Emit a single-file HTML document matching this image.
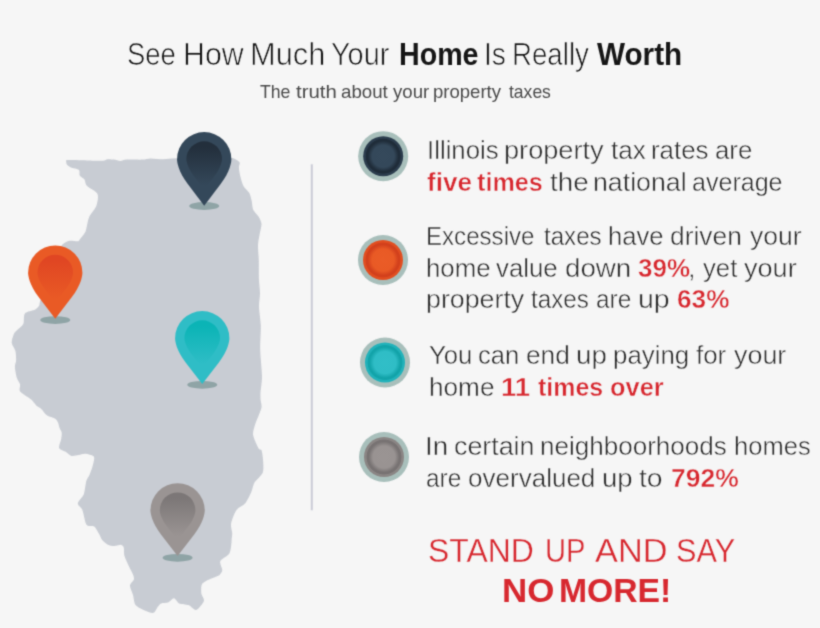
<!DOCTYPE html>
<html><head><meta charset="utf-8"><title>See How Much Your Home Is Really Worth</title>
<style>
html,body{margin:0;padding:0}
body{width:820px;height:628px;background:#f6f6f6;overflow:hidden;position:relative;font-family:"Liberation Sans",sans-serif}
svg{position:absolute;left:0;top:0}
.w{position:absolute;white-space:nowrap;font-weight:400;transform-origin:0 0;display:block}
.b{font-weight:700}
#tx{position:absolute;left:0;top:0;width:820px;height:628px;filter:url(#soft)}
#art{filter:url(#soft)}
.th{-webkit-text-stroke:0.7px #f6f6f6}
.t2{-webkit-text-stroke:0.45px #f6f6f6}
.t3{-webkit-text-stroke:0.35px #f6f6f6}
</style></head><body>
<svg id="art" width="820" height="628" viewBox="0 0 820 628">
<defs>
<filter id="soft" x="0" y="0" width="100%" height="100%" color-interpolation-filters="sRGB"><feConvolveMatrix order="3" kernelMatrix="0.0277 0.111 0.0277 0.111 0.4456 0.111 0.0277 0.111 0.0277" edgeMode="duplicate" preserveAlpha="false"/></filter>
<linearGradient id="pd" x1="0" y1="0" x2="0" y2="1"><stop offset="0.12" stop-color="#232f3c"/><stop offset="0.92" stop-color="#34485a"/></linearGradient>
<linearGradient id="po" x1="0" y1="0" x2="0" y2="1"><stop offset="0.12" stop-color="#e04623"/><stop offset="0.92" stop-color="#e95a25"/></linearGradient>
<linearGradient id="pt" x1="0" y1="0" x2="0" y2="1"><stop offset="0.12" stop-color="#0bb4b6"/><stop offset="0.92" stop-color="#2fbdc6"/></linearGradient>
<linearGradient id="pg" x1="0" y1="0" x2="0" y2="1"><stop offset="0.12" stop-color="#7c7777"/><stop offset="0.92" stop-color="#9a9493"/></linearGradient>
<radialGradient id="c0" cx="0.5" cy="0.5" r="0.5"><stop offset="0" stop-color="#35495b"/><stop offset="0.55" stop-color="#34485a"/><stop offset="0.77" stop-color="#1f2c39"/><stop offset="0.85" stop-color="#1f2c39"/><stop offset="0.89" stop-color="#2b3c4d"/><stop offset="1" stop-color="#2b3c4d"/></radialGradient>
<radialGradient id="c1" cx="0.5" cy="0.5" r="0.5"><stop offset="0" stop-color="#ea5c27"/><stop offset="0.55" stop-color="#e95a25"/><stop offset="0.77" stop-color="#d2401c"/><stop offset="0.85" stop-color="#d2401c"/><stop offset="0.89" stop-color="#e14e20"/><stop offset="1" stop-color="#e14e20"/></radialGradient>
<radialGradient id="c2" cx="0.5" cy="0.5" r="0.5"><stop offset="0" stop-color="#31bec7"/><stop offset="0.55" stop-color="#2fbdc6"/><stop offset="0.77" stop-color="#12a3a9"/><stop offset="0.85" stop-color="#12a3a9"/><stop offset="0.89" stop-color="#22b2ba"/><stop offset="1" stop-color="#22b2ba"/></radialGradient>
<radialGradient id="c3" cx="0.5" cy="0.5" r="0.5"><stop offset="0" stop-color="#9a9493"/><stop offset="0.55" stop-color="#999392"/><stop offset="0.77" stop-color="#777272"/><stop offset="0.85" stop-color="#777272"/><stop offset="0.89" stop-color="#8a8584"/><stop offset="1" stop-color="#8a8584"/></radialGradient>
</defs>
<path d="M66.3,162.0C66.4,161.4 65.0,160.3 67.7,160.1C70.4,159.9 82.1,160.3 86.8,160.4C91.5,160.5 100.0,160.9 102.8,160.8C105.6,160.7 106.0,159.5 107.5,159.3C109.0,159.1 112.2,159.4 113.9,159.6C115.6,159.8 118.6,161.0 120.3,161.0C122.0,161.0 123.7,159.8 126.7,159.6C129.7,159.4 139.4,159.8 142.6,159.6C145.8,159.4 147.7,158.5 150.5,158.4C153.3,158.3 159.9,159.2 163.3,159.2C166.7,159.2 170.6,158.5 176.0,158.3C181.4,158.1 196.7,158.0 204.0,158.0C211.3,158.0 226.8,157.8 231.0,158.0C235.2,158.2 234.5,159.0 235.7,159.6C236.9,160.2 239.3,161.6 239.7,162.7C240.1,163.8 238.8,165.6 238.9,167.5C239.0,169.4 239.9,174.6 240.5,177.1C241.1,179.6 242.5,184.5 243.7,186.6C244.9,188.7 248.2,191.1 249.3,193.0C250.4,194.9 251.2,198.8 251.7,201.0C252.2,203.2 252.3,207.6 253.2,209.7C254.1,211.8 257.7,215.0 258.8,216.9C259.9,218.8 261.4,221.7 261.5,224.0C261.6,226.3 260.1,231.5 259.6,234.4C259.1,237.3 258.1,242.0 258.0,245.5C257.9,249.0 258.7,256.1 258.8,260.7C258.9,265.3 258.8,275.6 259.0,280.0C259.2,284.4 260.0,289.8 260.0,293.4C260.0,297.0 258.9,302.5 259.0,306.8C259.1,311.1 260.6,319.9 260.8,325.6C261.0,331.3 260.0,343.0 260.2,349.8C260.4,356.6 262.0,370.9 262.0,376.6C262.0,382.3 260.7,389.6 260.5,392.7C260.3,395.8 260.5,398.0 260.6,400.0C260.7,402.0 262.1,404.8 261.4,408.0C260.7,411.2 256.4,420.5 255.3,424.1C254.2,427.7 252.7,431.7 253.1,434.9C253.5,438.1 257.4,446.2 258.5,448.3C259.6,450.4 261.1,448.9 261.7,450.7C262.3,452.5 263.1,458.9 263.2,461.9C263.3,464.9 263.8,470.2 262.6,473.0C261.4,475.8 256.0,480.1 254.5,482.6C253.0,485.1 252.5,489.3 251.3,492.1C250.1,494.9 247.3,500.9 245.3,503.3C243.3,505.7 238.4,507.3 236.5,510.0C234.6,512.7 231.7,520.3 231.1,523.4C230.5,526.5 232.1,530.8 232.2,533.0C232.3,535.2 231.7,538.3 231.6,540.0C231.5,541.7 231.5,543.5 231.2,545.4C230.9,547.3 230.5,551.9 229.0,554.0C227.5,556.1 221.2,559.1 220.3,561.2C219.4,563.3 222.4,568.2 222.3,570.1C222.2,572.0 220.8,574.1 219.3,575.2C217.8,576.3 213.0,577.6 210.7,578.7C208.4,579.8 203.5,581.9 202.2,583.8C200.9,585.7 201.1,590.9 201.3,593.2C201.5,595.5 204.6,598.7 203.9,600.9C203.2,603.1 198.3,609.3 196.2,609.9C194.1,610.5 190.8,606.0 188.5,605.1C186.2,604.2 181.1,604.3 179.2,603.4C177.3,602.5 175.5,598.4 174.0,598.3C172.5,598.2 169.7,601.9 168.0,602.6C166.3,603.3 162.6,602.8 161.2,603.4C159.8,604.0 158.8,605.5 157.8,606.8C156.8,608.1 155.3,612.3 153.5,612.8C151.7,613.3 146.5,611.2 144.1,610.2C141.7,609.2 137.1,607.1 135.6,605.1C134.1,603.1 133.7,597.5 133.0,594.9C132.3,592.3 129.9,587.6 130.0,585.5C130.1,583.4 133.5,581.0 133.9,579.5C134.3,578.0 133.7,576.2 133.0,574.4C132.3,572.6 129.9,568.4 128.8,565.9C127.7,563.4 125.2,558.5 124.5,556.0C123.8,553.5 124.2,548.7 123.7,547.2C123.2,545.7 121.8,544.9 120.5,544.8C119.2,544.7 115.8,546.1 114.1,546.1C112.4,546.1 109.4,545.6 107.8,544.8C106.2,544.0 103.4,541.6 102.2,540.1C101.0,538.6 100.1,535.5 99.0,533.7C97.9,531.9 95.7,527.6 94.2,526.5C92.7,525.4 89.1,526.2 87.9,525.7C86.7,525.2 86.2,524.6 85.5,522.5C84.8,520.4 83.3,512.3 82.3,509.8C81.3,507.3 77.6,505.5 77.8,503.4C78.0,501.3 82.8,496.9 83.9,493.9C85.0,490.9 85.5,483.7 86.3,481.1C87.1,478.5 88.9,476.4 89.8,474.2C90.7,472.0 92.5,467.0 93.0,464.6C93.5,462.2 94.9,457.9 93.8,456.5C92.7,455.1 87.1,454.0 85.1,453.8C83.1,453.6 80.5,454.8 78.7,455.1C76.9,455.4 73.2,456.3 71.5,455.9C69.8,455.5 67.7,453.0 66.0,451.9C64.3,450.8 59.7,449.6 59.1,447.9C58.5,446.2 60.9,441.1 61.2,439.1C61.5,437.1 61.9,434.3 61.7,432.8C61.5,431.3 60.1,429.4 59.6,428.0C59.1,426.6 58.6,423.7 58.0,422.4C57.4,421.1 56.3,419.3 54.8,418.4C53.3,417.5 48.6,416.6 46.8,415.3C45.0,414.0 42.7,410.2 41.3,408.9C39.9,407.6 37.9,407.0 36.5,405.7C35.1,404.4 33.1,401.2 30.9,399.3C28.7,397.4 21.5,393.6 20.1,391.6C18.7,389.6 20.5,386.2 20.1,384.4C19.7,382.6 17.6,380.3 16.9,378.0C16.2,375.7 15.0,369.2 14.9,366.9C14.8,364.6 16.0,362.6 16.1,360.5C16.2,358.4 16.0,353.4 15.4,351.0C14.8,348.6 11.9,344.9 11.7,342.7C11.5,340.5 13.1,335.9 13.8,334.2C14.5,332.5 15.6,331.7 16.9,330.3C18.2,328.9 22.2,326.1 23.3,323.9C24.4,321.7 23.3,315.4 24.9,313.5C26.5,311.6 33.4,310.7 35.3,309.6C37.2,308.5 38.5,306.9 39.2,305.6C39.9,304.3 39.1,304.1 40.5,300.0C41.9,295.9 47.7,281.0 50.0,275.0C52.3,269.0 56.4,259.0 58.0,255.0C59.6,251.0 60.7,246.7 62.2,244.8C63.7,242.9 67.4,241.3 69.5,240.8C71.6,240.3 76.5,241.6 77.9,241.3C79.3,241.0 79.3,239.9 80.3,238.7C81.3,237.5 84.3,234.1 85.2,232.3C86.1,230.5 86.6,227.1 87.1,225.0C87.6,222.9 88.0,219.5 89.2,216.9C90.4,214.3 95.3,208.8 96.4,205.7C97.5,202.6 98.7,196.5 97.4,193.8C96.1,191.1 88.5,187.7 86.8,185.8C85.1,183.9 85.4,180.9 84.5,179.5C83.6,178.1 80.4,176.8 79.7,175.5C79.0,174.2 80.1,171.0 78.9,169.9C77.7,168.8 72.5,168.2 70.9,167.5C69.3,166.8 67.5,165.2 66.9,164.5C66.3,163.8 66.2,162.6 66.3,162.0Z" fill="#c8ccd3"/>
<rect x="310.8" y="164.3" width="2" height="346" fill="#cbccd7"/>
<ellipse cx="204.2" cy="206.0" rx="15" ry="3.9" fill="#8fa4a6"/>
<path d="M204.20,205.70L187.59,183.75C178.34,171.50 177.05,162.31 177.05,159.25A27.15,27.15 0 0 1 231.35,159.25C231.35,162.31 230.06,171.50 220.81,183.75Z" fill="#34485a"/>
<path d="M204.20,189.55L193.31,175.16C187.25,167.13 186.40,161.11 186.40,159.10A17.80,17.80 0 0 1 222.00,159.10C222.00,161.11 221.15,167.13 215.09,175.16Z" fill="url(#pd)"/>
<ellipse cx="55.25" cy="320.1" rx="15" ry="3.9" fill="#8fa4a6"/>
<path d="M55.25,318.80L38.64,296.99C29.39,284.82 28.10,275.69 28.10,272.65A27.15,27.15 0 0 1 82.40,272.65C82.40,275.69 81.11,284.82 71.86,296.99Z" fill="#e95a25"/>
<path d="M55.25,302.76L44.36,288.46C38.30,280.48 37.45,274.49 37.45,272.50A17.80,17.80 0 0 1 73.05,272.50C73.05,274.49 72.20,280.48 66.14,288.46Z" fill="url(#po)"/>
<ellipse cx="202.25" cy="384.8" rx="15" ry="3.9" fill="#8fa4a6"/>
<path d="M202.25,384.00L185.64,362.38C176.39,350.32 175.10,341.27 175.10,338.25A27.15,27.15 0 0 1 229.40,338.25C229.40,341.27 228.11,350.32 218.86,362.38Z" fill="#2fbdc6"/>
<path d="M202.25,368.09L191.36,353.92C185.30,346.01 184.45,340.08 184.45,338.10A17.80,17.80 0 0 1 220.05,338.10C220.05,340.08 219.20,346.01 213.14,353.92Z" fill="url(#pt)"/>
<ellipse cx="177.6" cy="557.8" rx="15" ry="3.9" fill="#8fa4a6"/>
<path d="M177.60,556.00L160.99,534.43C151.74,522.39 150.45,513.36 150.45,510.35A27.15,27.15 0 0 1 204.75,510.35C204.75,513.36 203.46,522.39 194.21,534.43Z" fill="#9a9493"/>
<path d="M177.60,540.13L166.71,525.99C160.65,518.09 159.80,512.17 159.80,510.20A17.80,17.80 0 0 1 195.40,510.20C195.40,512.17 194.55,518.09 188.49,525.99Z" fill="url(#pg)"/>
<circle cx="383.2" cy="156.2" r="25" fill="#a8bfbb"/><circle cx="383.2" cy="156.2" r="20" fill="url(#c0)"/>
<circle cx="383" cy="260" r="25" fill="#a8bfbb"/><circle cx="383" cy="260" r="20" fill="url(#c1)"/>
<circle cx="385" cy="362.5" r="25" fill="#a8bfbb"/><circle cx="385" cy="362.5" r="20" fill="url(#c2)"/>
<circle cx="384" cy="457" r="25" fill="#a8bfbb"/><circle cx="384" cy="457" r="20" fill="url(#c3)"/>
</svg>
<div id="tx">
<span class="w th" style="left:126.99px;top:36.86px;font-size:31.2px;line-height:35.849px;color:#151515;transform:scaleX(0.8797)">See</span> <span class="w th" style="left:182.56px;top:36.86px;font-size:31.2px;line-height:35.849px;color:#151515;transform:scaleX(0.9716)">How</span> <span class="w th" style="left:250.32px;top:36.86px;font-size:31.2px;line-height:35.849px;color:#151515;transform:scaleX(0.9880)">Much</span> <span class="w th" style="left:330.78px;top:36.86px;font-size:31.2px;line-height:35.849px;color:#151515;transform:scaleX(0.9258)">Your</span> <span class="w b" style="left:398.82px;top:36.86px;font-size:31.2px;line-height:35.849px;color:#161616;transform:scaleX(0.9180)">Home</span> <span class="w th" style="left:484.45px;top:36.86px;font-size:31.2px;line-height:35.849px;color:#151515;transform:scaleX(0.9029)">Is</span> <span class="w th" style="left:512.28px;top:36.86px;font-size:31.2px;line-height:35.849px;color:#151515;transform:scaleX(0.8868)">Really</span> <span class="w b" style="left:596.90px;top:36.86px;font-size:31.2px;line-height:35.849px;color:#161616;transform:scaleX(0.9519)">Worth</span>
<span class="w" style="left:259.91px;top:81.70px;font-size:17.9px;line-height:20.567px;color:#4a4a4a;transform:scaleX(0.9876)">The</span> <span class="w" style="left:296.20px;top:81.70px;font-size:17.9px;line-height:20.567px;color:#4a4a4a;transform:scaleX(1.1393)">truth</span> <span class="w" style="left:341.06px;top:81.70px;font-size:17.9px;line-height:20.567px;color:#4a4a4a;transform:scaleX(1.0446)">about</span> <span class="w" style="left:393.25px;top:81.70px;font-size:17.9px;line-height:20.567px;color:#4a4a4a;transform:scaleX(1.0392)">your</span> <span class="w" style="left:433.44px;top:81.70px;font-size:17.9px;line-height:20.567px;color:#4a4a4a;transform:scaleX(1.0363)">property</span> <span class="w" style="left:508.64px;top:81.70px;font-size:17.9px;line-height:20.567px;color:#4a4a4a;transform:scaleX(0.9795)">taxes</span>
<span class="w t2" style="left:427.01px;top:135.52px;font-size:25.5px;line-height:29.300px;color:#2d2d2d;transform:scaleX(1.0121)">Illinois</span> <span class="w t2" style="left:504.21px;top:135.52px;font-size:25.5px;line-height:29.300px;color:#2d2d2d;transform:scaleX(1.0650)">property</span> <span class="w t2" style="left:611.35px;top:135.52px;font-size:25.5px;line-height:29.300px;color:#2d2d2d;transform:scaleX(1.0243)">tax</span> <span class="w t2" style="left:651.48px;top:135.52px;font-size:25.5px;line-height:29.300px;color:#2d2d2d;transform:scaleX(1.0134)">rates</span> <span class="w t2" style="left:714.76px;top:135.52px;font-size:25.5px;line-height:29.300px;color:#2d2d2d;transform:scaleX(1.0125)">are</span>
<span class="w b t2" style="left:427.21px;top:167.82px;font-size:25.5px;line-height:29.300px;color:#d7282f;transform:scaleX(1.0224)">five</span> <span class="w b t2" style="left:477.08px;top:167.82px;font-size:25.5px;line-height:29.300px;color:#d7282f;transform:scaleX(0.9875)">times</span> <span class="w t2" style="left:549.73px;top:167.82px;font-size:25.5px;line-height:29.300px;color:#2d2d2d;transform:scaleX(1.0875)">the</span> <span class="w t2" style="left:593.20px;top:167.82px;font-size:25.5px;line-height:29.300px;color:#2d2d2d;transform:scaleX(1.0483)">national</span> <span class="w t2" style="left:692.40px;top:167.82px;font-size:25.5px;line-height:29.300px;color:#2d2d2d;transform:scaleX(0.9826)">average</span>
<span class="w t2" style="left:425.99px;top:222.22px;font-size:25.5px;line-height:29.300px;color:#2d2d2d;transform:scaleX(0.9447)">Excessive</span> <span class="w t2" style="left:543.76px;top:222.22px;font-size:25.5px;line-height:29.300px;color:#2d2d2d;transform:scaleX(0.9455)">taxes</span> <span class="w t2" style="left:608.18px;top:222.22px;font-size:25.5px;line-height:29.300px;color:#2d2d2d;transform:scaleX(1.0043)">have</span> <span class="w t2" style="left:670.23px;top:222.22px;font-size:25.5px;line-height:29.300px;color:#2d2d2d;transform:scaleX(1.0336)">driven</span> <span class="w t2" style="left:749.78px;top:222.22px;font-size:25.5px;line-height:29.300px;color:#2d2d2d;transform:scaleX(1.0407)">your</span>
<span class="w t2" style="left:425.99px;top:253.62px;font-size:25.5px;line-height:29.300px;color:#2d2d2d;transform:scaleX(1.0134)">home</span> <span class="w t2" style="left:496.39px;top:253.62px;font-size:25.5px;line-height:29.300px;color:#2d2d2d;transform:scaleX(1.0118)">value</span> <span class="w t2" style="left:564.87px;top:253.62px;font-size:25.5px;line-height:29.300px;color:#2d2d2d;transform:scaleX(1.0875)">down</span> <span class="w b t2" style="left:637.85px;top:253.62px;font-size:25.5px;line-height:29.300px;color:#d7282f;transform:scaleX(1.0207)">39%</span><span class="w t2" style="left:688.26px;top:253.62px;font-size:25.5px;line-height:29.300px;color:#2d2d2d;transform:scaleX(1.0000)">,</span> <span class="w t2" style="left:702.80px;top:253.62px;font-size:25.5px;line-height:29.300px;color:#2d2d2d;transform:scaleX(1.0087)">yet</span> <span class="w t2" style="left:743.97px;top:253.62px;font-size:25.5px;line-height:29.300px;color:#2d2d2d;transform:scaleX(1.0611)">your</span>
<span class="w t2" style="left:426.03px;top:285.12px;font-size:25.5px;line-height:29.300px;color:#2d2d2d;transform:scaleX(1.0499)">property</span> <span class="w t2" style="left:531.36px;top:285.12px;font-size:25.5px;line-height:29.300px;color:#2d2d2d;transform:scaleX(0.9498)">taxes</span> <span class="w t2" style="left:595.75px;top:285.12px;font-size:25.5px;line-height:29.300px;color:#2d2d2d;transform:scaleX(0.9555)">are</span> <span class="w t2" style="left:638.36px;top:285.12px;font-size:25.5px;line-height:29.300px;color:#2d2d2d;transform:scaleX(1.1186)">up</span> <span class="w b t2" style="left:677.03px;top:285.12px;font-size:25.5px;line-height:29.300px;color:#d7282f;transform:scaleX(1.0269)">63%</span>
<span class="w t2" style="left:428.87px;top:341.02px;font-size:25.5px;line-height:29.300px;color:#2d2d2d;transform:scaleX(1.0056)">You</span> <span class="w t2" style="left:478.41px;top:341.02px;font-size:25.5px;line-height:29.300px;color:#2d2d2d;transform:scaleX(1.0001)">can</span> <span class="w t2" style="left:526.05px;top:341.02px;font-size:25.5px;line-height:29.300px;color:#2d2d2d;transform:scaleX(1.0305)">end</span> <span class="w t2" style="left:576.21px;top:341.02px;font-size:25.5px;line-height:29.300px;color:#2d2d2d;transform:scaleX(1.0875)">up</span> <span class="w t2" style="left:613.09px;top:341.02px;font-size:25.5px;line-height:29.300px;color:#2d2d2d;transform:scaleX(1.0139)">paying</span> <span class="w t2" style="left:695.96px;top:341.02px;font-size:25.5px;line-height:29.300px;color:#2d2d2d;transform:scaleX(1.0153)">for</span> <span class="w t2" style="left:734.18px;top:341.02px;font-size:25.5px;line-height:29.300px;color:#2d2d2d;transform:scaleX(1.0538)">your</span>
<span class="w t2" style="left:428.79px;top:372.62px;font-size:25.5px;line-height:29.300px;color:#2d2d2d;transform:scaleX(1.0268)">home</span> <span class="w b t2" style="left:501.44px;top:372.62px;font-size:25.5px;line-height:29.300px;color:#d7282f;transform:scaleX(1.0838)">11</span> <span class="w b t2" style="left:538.28px;top:372.62px;font-size:25.5px;line-height:29.300px;color:#d7282f;transform:scaleX(0.9786)">times</span> <span class="w b t2" style="left:610.14px;top:372.62px;font-size:25.5px;line-height:29.300px;color:#d7282f;transform:scaleX(0.9956)">over</span>
<span class="w t2" style="left:424.64px;top:431.92px;font-size:25.5px;line-height:29.300px;color:#2d2d2d;transform:scaleX(1.0867)">In</span> <span class="w t2" style="left:453.52px;top:431.92px;font-size:25.5px;line-height:29.300px;color:#2d2d2d;transform:scaleX(1.0513)">certain</span> <span class="w t2" style="left:540.06px;top:431.92px;font-size:25.5px;line-height:29.300px;color:#2d2d2d;transform:scaleX(1.0210)">neighboorhoods</span> <span class="w t2" style="left:734.27px;top:431.92px;font-size:25.5px;line-height:29.300px;color:#2d2d2d;transform:scaleX(1.0014)">homes</span>
<span class="w t2" style="left:426.18px;top:464.12px;font-size:25.5px;line-height:29.300px;color:#2d2d2d;transform:scaleX(0.9549)">are</span> <span class="w t2" style="left:468.23px;top:464.12px;font-size:25.5px;line-height:29.300px;color:#2d2d2d;transform:scaleX(1.0208)">overvalued</span> <span class="w t2" style="left:602.02px;top:464.12px;font-size:25.5px;line-height:29.300px;color:#2d2d2d;transform:scaleX(1.0804)">up</span> <span class="w t2" style="left:638.92px;top:464.12px;font-size:25.5px;line-height:29.300px;color:#2d2d2d;transform:scaleX(1.1105)">to</span> <span class="w b t2" style="left:670.92px;top:464.12px;font-size:25.5px;line-height:29.300px;color:#d7282f;transform:scaleX(1.0376)">792%</span>
<span class="w t3" style="left:427.85px;top:533.09px;font-size:32.5px;line-height:37.343px;color:#d7282f;transform:scaleX(0.9815)">STAND</span> <span class="w t3" style="left:544.58px;top:533.09px;font-size:32.5px;line-height:37.343px;color:#d7282f;transform:scaleX(0.8966)">UP</span> <span class="w t3" style="left:594.64px;top:533.09px;font-size:32.5px;line-height:37.343px;color:#d7282f;transform:scaleX(1.0570)">AND</span> <span class="w t3" style="left:675.57px;top:533.09px;font-size:32.5px;line-height:37.343px;color:#d7282f;transform:scaleX(0.9440)">SAY</span>
<span class="w b" style="left:501.86px;top:572.89px;font-size:32.5px;line-height:37.343px;color:#d7282f;transform:scaleX(1.0737)">NO</span> <span class="w b" style="left:558.79px;top:572.89px;font-size:32.5px;line-height:37.343px;color:#d7282f;transform:scaleX(1.0367)">MORE!</span>
</div>
</body></html>
